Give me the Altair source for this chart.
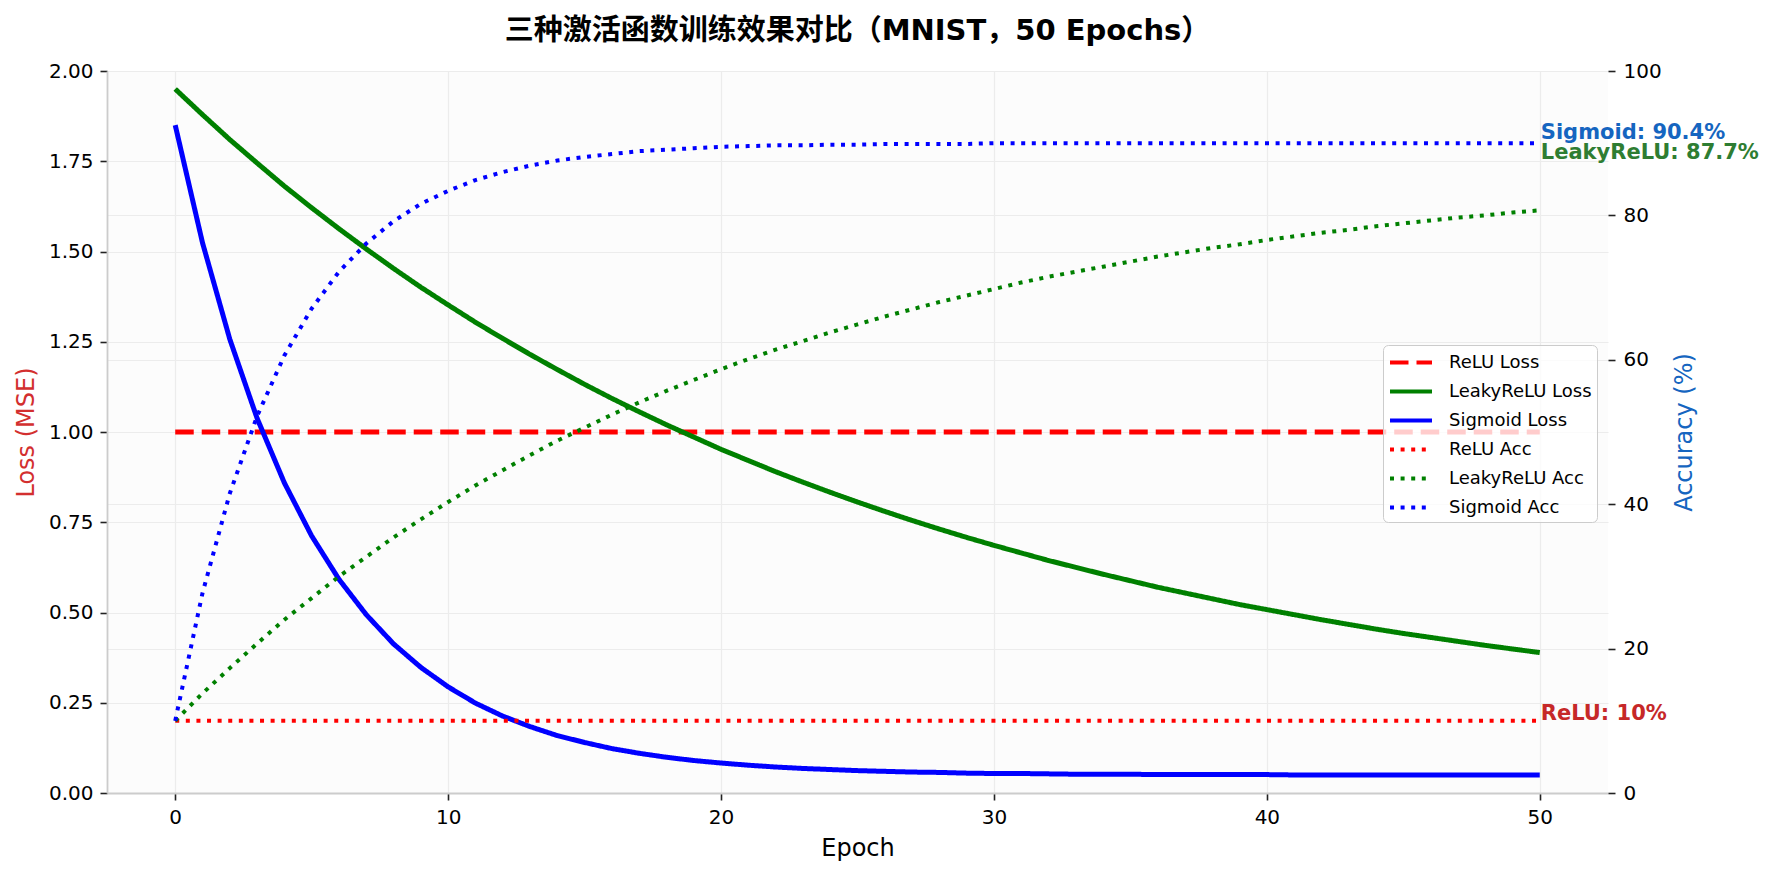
import altair as alt
import pandas as pd

# ---------------- data ----------------
epochs = list(range(51))

relu_loss = [1.0] * 51
leaky_loss = [
    1.950, 1.879, 1.810, 1.745, 1.681, 1.621, 1.563, 1.507, 1.453, 1.401,
    1.352, 1.304, 1.259, 1.215, 1.173, 1.132, 1.093, 1.056, 1.020, 0.986,
    0.952, 0.921, 0.890, 0.861, 0.833, 0.806, 0.780, 0.755, 0.731, 0.708,
    0.686, 0.665, 0.644, 0.625, 0.606, 0.588, 0.570, 0.554, 0.538, 0.522,
    0.508, 0.494, 0.480, 0.467, 0.454, 0.442, 0.431, 0.420, 0.409, 0.399,
    0.389,
]
sigmoid_loss = [
    1.850, 1.524, 1.257, 1.038, 0.859, 0.712, 0.592, 0.494, 0.413, 0.348,
    0.294, 0.249, 0.213, 0.184, 0.159, 0.140, 0.123, 0.110, 0.099, 0.090,
    0.083, 0.077, 0.072, 0.068, 0.065, 0.062, 0.060, 0.058, 0.057, 0.055,
    0.054, 0.054, 0.053, 0.052, 0.052, 0.052, 0.051, 0.051, 0.051, 0.051,
    0.051, 0.050, 0.050, 0.050, 0.050, 0.050, 0.050, 0.050, 0.050, 0.050,
    0.050,
]
relu_acc = [10.0] * 51
leaky_acc = [
    10.0, 13.8, 17.3, 20.7, 24.0, 27.0, 30.0, 32.7, 35.4, 37.9,
    40.3, 42.6, 44.7, 46.8, 48.8, 50.6, 52.4, 54.1, 55.7, 57.2,
    58.7, 60.1, 61.4, 62.6, 63.8, 64.9, 66.0, 67.0, 68.0, 68.9,
    69.8, 70.7, 71.5, 72.2, 72.9, 73.6, 74.3, 74.9, 75.5, 76.0,
    76.6, 77.1, 77.6, 78.0, 78.5, 78.9, 79.3, 79.7, 80.0, 80.4,
    80.7,
]
sigmoid_acc = [
    10.0, 27.7, 41.5, 52.2, 60.6, 67.1, 72.2, 76.1, 79.2, 81.6,
    83.4, 84.9, 86.0, 86.9, 87.6, 88.1, 88.5, 88.9, 89.1, 89.3,
    89.5, 89.6, 89.7, 89.7, 89.8, 89.8, 89.9, 89.9, 89.9, 89.9,
    90.0, 90.0, 90.0, 90.0, 90.0, 90.0, 90.0, 90.0, 90.0, 90.0,
    90.0, 90.0, 90.0, 90.0, 90.0, 90.0, 90.0, 90.0, 90.0, 90.0,
    90.0,
]

series_names = ["ReLU Loss", "LeakyReLU Loss", "Sigmoid Loss",
                "ReLU Acc", "LeakyReLU Acc", "Sigmoid Acc"]
series_colors = ["#ff0000", "#008000", "#0000ff",
                 "#ff0000", "#008000", "#0000ff"]
series_dash = [[18.5, 8], [1, 0], [1, 0], [4, 6.6], [4, 6.6], [4, 6.6]]

label_text = ["Sigmoid: 90.4%", "LeakyReLU: 87.7%", "ReLU: 10%"]
label_value = [90.4, 87.7, 10.0]
label_epoch = [50, 50, 50]
label_color = ["#1565c0", "#2e7d32", "#c62828"]

title_text = "三种激活函数训练效果对比（MNIST，50 Epochs）"

# ---------------- tables ----------------
loss_df = pd.concat([
    pd.DataFrame({"epoch": epochs, "value": relu_loss, "series": "ReLU Loss"}),
    pd.DataFrame({"epoch": epochs, "value": leaky_loss, "series": "LeakyReLU Loss"}),
    pd.DataFrame({"epoch": epochs, "value": sigmoid_loss, "series": "Sigmoid Loss"}),
], ignore_index=True)
acc_df = pd.concat([
    pd.DataFrame({"epoch": epochs, "value": relu_acc, "series": "ReLU Acc"}),
    pd.DataFrame({"epoch": epochs, "value": leaky_acc, "series": "LeakyReLU Acc"}),
    pd.DataFrame({"epoch": epochs, "value": sigmoid_acc, "series": "Sigmoid Acc"}),
], ignore_index=True)
label_df = pd.DataFrame({"epoch": label_epoch, "value": label_value,
                         "text": label_text, "color": label_color})

FONT = "DejaVu Sans"
W, H = 1501, 722

leg = alt.Legend(
    title=None, orient="none", legendX=1276, legendY=274,
    symbolType="M-1,0H3", symbolSize=441, symbolStrokeWidth=4,
    labelFontSize=18, labelFont=FONT, labelColor="#000000",
    labelOffset=36, rowPadding=7, padding=5,
    fillColor="rgba(255,255,255,0.8)", strokeColor="#cccccc", cornerRadius=5,
)

color_enc = alt.Color("series:N", scale=alt.Scale(domain=series_names, range=series_colors), legend=leg)
dash_enc = alt.StrokeDash("series:N", scale=alt.Scale(domain=series_names, range=series_dash), legend=leg)

x_enc = alt.X(
    "epoch:Q",
    scale=alt.Scale(domain=[-2.5, 52.5], nice=False, zero=False),
    axis=alt.Axis(title="Epoch", values=[0, 10, 20, 30, 40, 50], format="d",
                  grid=True, titleY=55, titleBaseline="middle"),
)

y_loss = alt.Y(
    "value:Q",
    scale=alt.Scale(domain=[0, 2], nice=False),
    axis=alt.Axis(title="Loss (MSE)", orient="left", format=".2f",
                  values=[0, 0.25, 0.5, 0.75, 1.0, 1.25, 1.5, 1.75, 2.0],
                  grid=True, titleColor="#d32f2f", titleAngle=270,
                  titleX=-81, titleY=H / 2, titleAlign="center", titleBaseline="middle",
                  domain=True),
)
acc_axis = alt.Axis(title="Accuracy (%)", orient="right", format="d",
                    values=[0, 20, 40, 60, 80, 100], grid=True,
                    titleColor="#1565c0", titleAngle=270,
                    titleX=76, titleY=H / 2, titleAlign="center", titleBaseline="middle",
                    domain=False, labelPadding=8)
y_acc = alt.Y("value:Q", scale=alt.Scale(domain=[0, 100], nice=False), axis=acc_axis)

loss_layer = alt.Chart(loss_df).mark_line(strokeWidth=5).encode(
    x=x_enc, y=y_loss, color=color_enc, strokeDash=dash_enc,
    order=alt.Order("epoch:Q"),
)
acc_lines = alt.Chart(acc_df).mark_line(strokeWidth=4).encode(
    x=x_enc, y=y_acc, color=color_enc, strokeDash=dash_enc,
    order=alt.Order("epoch:Q"),
)
acc_labels = alt.Chart(label_df).mark_text(
    align="left", baseline="middle", fontSize=21, fontWeight="bold",
    font=FONT, dx=1, dy=-7,
).encode(
    x=x_enc, y=y_acc, text="text:N", fill=alt.Fill("color:N", scale=None),
)
acc_layer = alt.layer(acc_lines, acc_labels)

chart = alt.layer(loss_layer, acc_layer).resolve_scale(
    y="independent"
).properties(
    width=W, height=H,
    padding={"left": 99, "top": 63, "right": 156, "bottom": 75},
    autosize=alt.AutoSizeParams(type="none"),
    title=alt.TitleParams(
        text=title_text, fontSize=29, fontWeight="bold",
        font="DejaVu Sans, Noto Sans CJK SC", anchor="middle",
        offset=15, color="#000000",
    ),
).configure(
    background="white",
).configure_view(
    fill="#fcfcfc", stroke=None,
).configure_axis(
    labelFont=FONT, titleFont=FONT, labelFontSize=20, titleFontSize=24,
    titleFontWeight="normal", labelColor="#000000", titleColor="#000000",
    tickColor="#222222", tickSize=7, tickWidth=1.6, labelPadding=7,
    gridColor="#ececec", gridWidth=1.2,
    domainColor="#cccccc", domainWidth=1.8,
)

chart.save("out.html", embed_options={"renderer": "svg", "actions": False})
